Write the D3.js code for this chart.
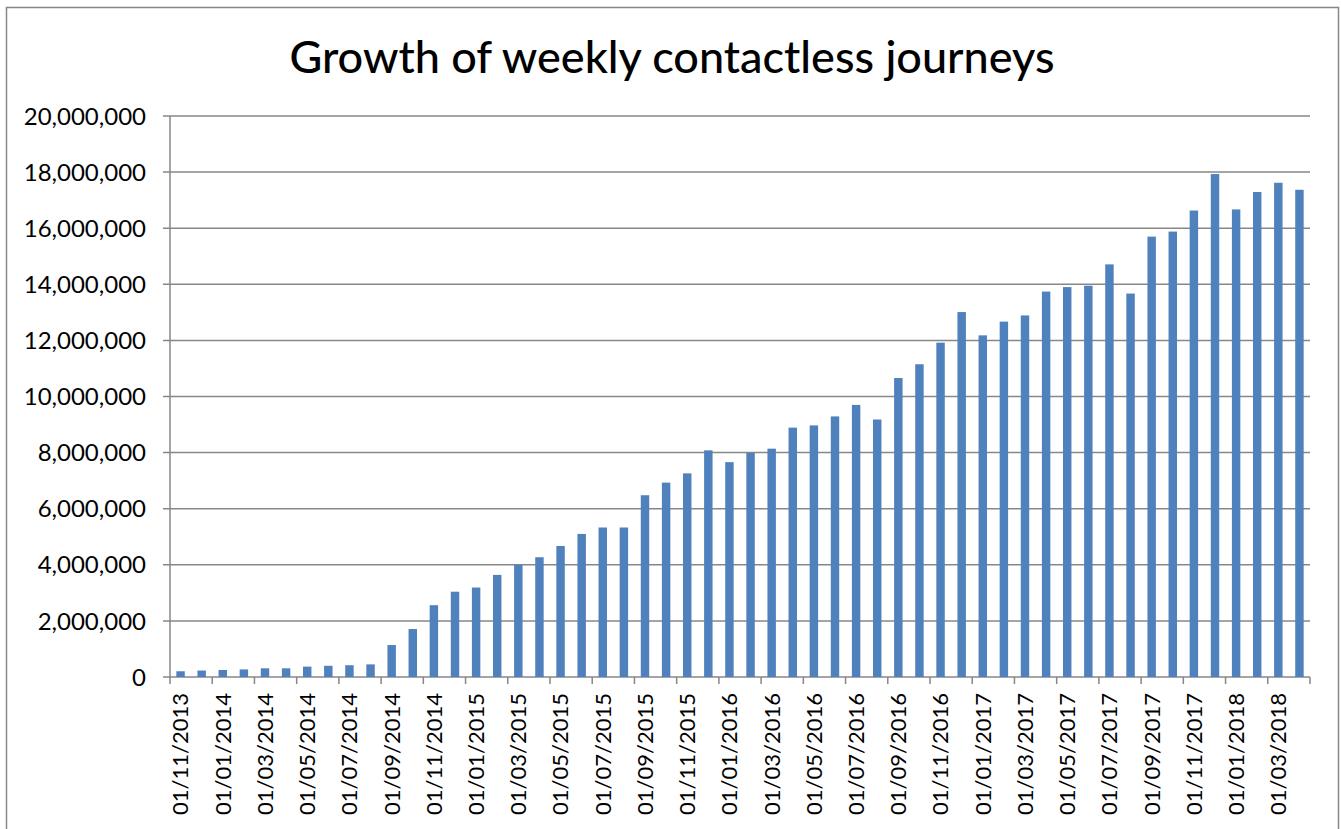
<!DOCTYPE html>
<html>
<head>
<meta charset="utf-8">
<script src="https://cdn.jsdelivr.net/npm/d3@7"></script>
<style>
  body { margin: 0; background: #fff; }
  text { font-family: Lato, "Open Sans", sans-serif; fill: #000; }
</style>
</head>
<body>
<svg id="chart" width="1341" height="829"></svg>
<script>
// months, Nov 2013 .. Apr 2018
var months = [
  "01/11/2013", "01/12/2013", "01/01/2014", "01/02/2014", "01/03/2014", "01/04/2014",
  "01/05/2014", "01/06/2014", "01/07/2014", "01/08/2014", "01/09/2014", "01/10/2014",
  "01/11/2014", "01/12/2014", "01/01/2015", "01/02/2015", "01/03/2015", "01/04/2015",
  "01/05/2015", "01/06/2015", "01/07/2015", "01/08/2015", "01/09/2015", "01/10/2015",
  "01/11/2015", "01/12/2015", "01/01/2016", "01/02/2016", "01/03/2016", "01/04/2016",
  "01/05/2016", "01/06/2016", "01/07/2016", "01/08/2016", "01/09/2016", "01/10/2016",
  "01/11/2016", "01/12/2016", "01/01/2017", "01/02/2017", "01/03/2017", "01/04/2017",
  "01/05/2017", "01/06/2017", "01/07/2017", "01/08/2017", "01/09/2017", "01/10/2017",
  "01/11/2017", "01/12/2017", "01/01/2018", "01/02/2018", "01/03/2018", "01/04/2018"
];

var journeys = [
  205000, 230000, 250000, 270000, 310000, 310000, 370000, 400000, 420000, 450000,
  1140000, 1710000, 2560000, 3040000, 3190000, 3640000, 4000000, 4270000, 4670000, 5100000,
  5330000, 5330000, 6480000, 6930000, 7260000, 8080000, 7660000, 7990000, 8140000, 8890000,
  8970000, 9290000, 9700000, 9180000, 10660000, 11150000, 11920000, 13010000, 12180000, 12670000,
  12890000, 13740000, 13900000, 13950000, 14710000, 13670000, 15700000, 15880000, 16630000, 17930000,
  16670000, 17290000, 17620000, 17370000
];

var yTicks = d3.range(0, 20000001, 2000000);
var title = "Growth of weekly contactless journeys";

var svg = d3.select("#chart");
var margin = { top: 116, left: 170, right: 31, bottom: 152 };
var width = 1341 - margin.left - margin.right;
var height = 829 - margin.top - margin.bottom;
var gray = "#878787";

// outer frame
svg.append("rect")
  .attr("x", 6.5).attr("y", 7.5)
  .attr("width", 1332).attr("height", 840)
  .attr("fill", "none").attr("stroke", gray).attr("stroke-width", 1.5);

svg.append("text")
  .attr("x", 672).attr("y", 73)
  .attr("text-anchor", "middle")
  .attr("font-size", 45)
  .attr("font-weight", 500)
  .text(title);

var g = svg.append("g").attr("transform", `translate(${margin.left},${margin.top})`);

var x = d3.scaleBand().domain(months).range([0, width]).paddingInner(0.6).paddingOuter(0.3);
var y = d3.scaleLinear().domain([0, 20000000]).range([height, 0]);

// gridlines
g.append("g")
  .selectAll("line")
  .data(yTicks)
  .join("line")
  .attr("x1", -7).attr("x2", width)
  .attr("y1", d => y(d)).attr("y2", d => y(d))
  .attr("stroke", gray).attr("stroke-width", 1.5);

// y labels
var fmt = d3.format(",");
g.append("g")
  .selectAll("text")
  .data(yTicks)
  .join("text")
  .attr("x", -24)
  .attr("y", d => y(d))
  .attr("dy", "0.36em")
  .attr("text-anchor", "end")
  .attr("font-size", 24)
  .text(d => fmt(d));

// bars
g.append("g")
  .selectAll("rect")
  .data(journeys)
  .join("rect")
  .attr("x", (d, i) => x(months[i]))
  .attr("y", d => y(d))
  .attr("width", x.bandwidth())
  .attr("height", d => height - y(d))
  .attr("fill", "#4F81BD");

// axes lines
g.append("line")
  .attr("x1", 0).attr("x2", 0).attr("y1", 0).attr("y2", height)
  .attr("stroke", gray).attr("stroke-width", 1.5);

var step = x.step();
var tickPos = d3.range(0, months.length + 1, 2).map(i => i * step);
g.append("g")
  .selectAll("line")
  .data(tickPos)
  .join("line")
  .attr("x1", d => d).attr("x2", d => d)
  .attr("y1", height).attr("y2", height + 7)
  .attr("stroke", gray).attr("stroke-width", 1.5);

// x labels (every second month)
g.append("g")
  .selectAll("text")
  .data(months.filter((m, i) => i % 2 === 0))
  .join("text")
  .attr("transform", d => `translate(${x(d) + x.bandwidth() / 2},${height + 16}) rotate(-90)`)
  .attr("text-anchor", "end")
  .attr("dy", "0.36em")
  .attr("font-size", 22)
  .text(d => d);
</script>
</body>
</html>
